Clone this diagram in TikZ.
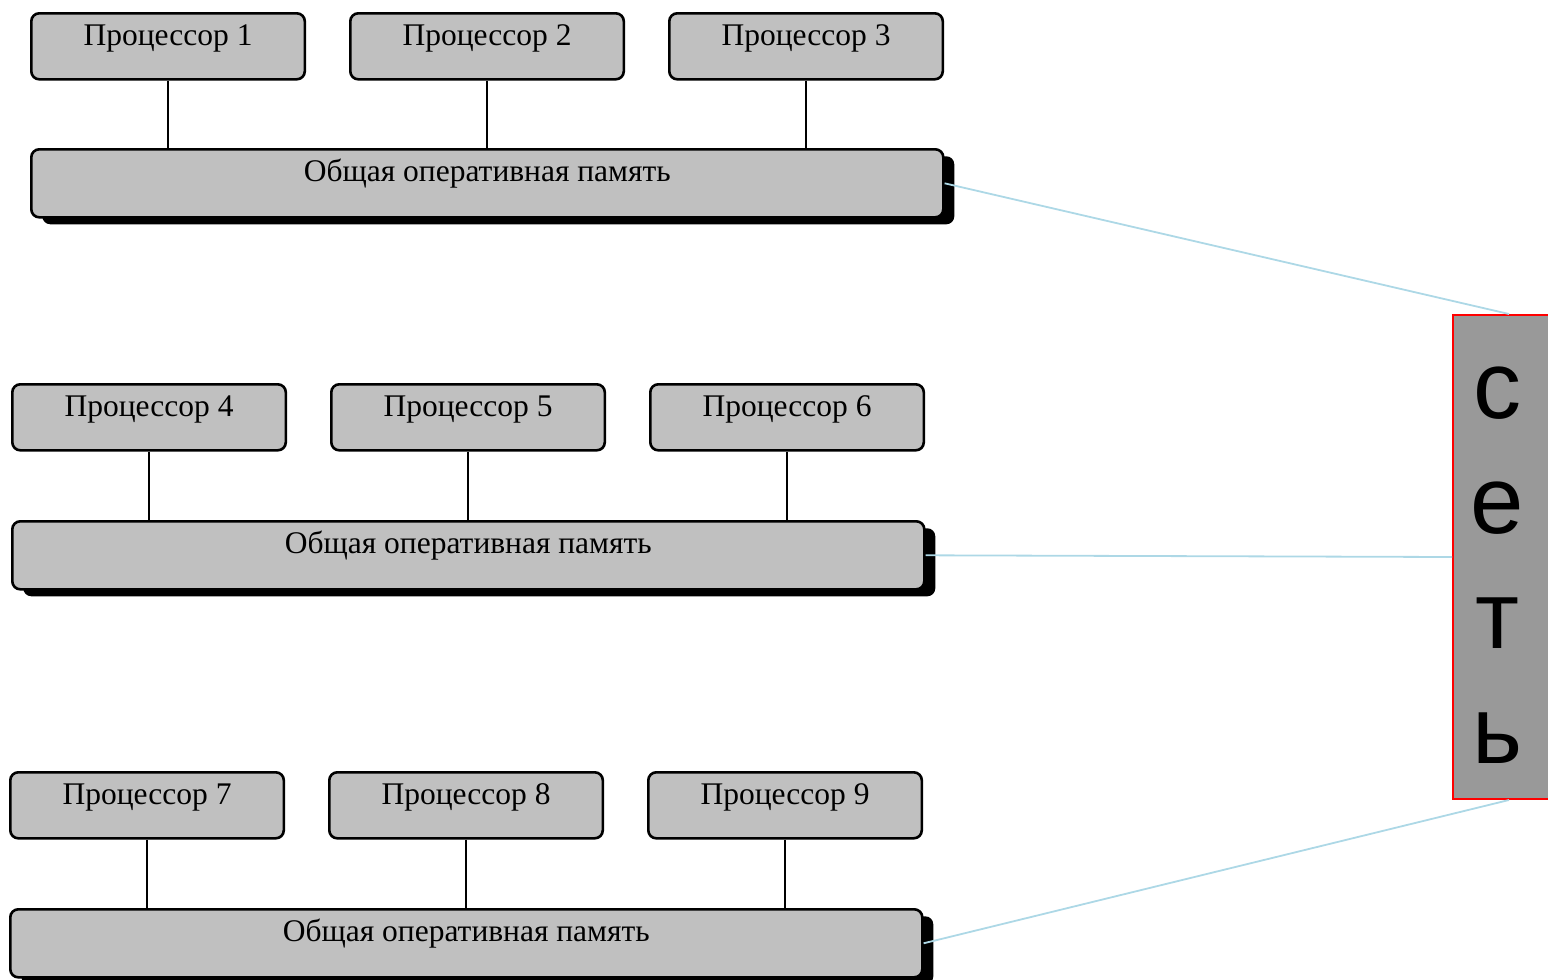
\documentclass[tikz,border=0pt]{standalone}
\usepackage{fontspec}
\setmainfont{Liberation Serif}
\newfontfamily\netfont{Liberation Sans}
\usetikzlibrary{shadows}
\definecolor{boxgray}{HTML}{C0C0C0}
\definecolor{netgray}{HTML}{999999}
\definecolor{linkblue}{HTML}{ADD8E6}
\begin{document}
\begin{tikzpicture}[x=1pt,y=-1pt,
  boxbase/.style={draw=black, line width=2.6pt, rounded corners=8pt, fill=boxgray,
    inner xsep=0pt, inner ysep=0pt, anchor=north west,
    font=\fontsize{31.5}{36}\selectfont},
  cpu/.style={boxbase, minimum width=273.5pt, text height=32pt, text depth=34pt},
  mem/.style={boxbase, minimum width=912pt, text height=32.5pt, text depth=35.5pt,
    drop shadow={shadow xshift=11pt, shadow yshift=-7pt, fill=black, opacity=1}},
  bus/.style={draw=black, line width=2.6pt},
  link/.style={draw=linkblue, line width=1.8pt},
  netbox/.style={draw=red, line width=2pt, fill=netgray, inner sep=0pt,
    minimum width=112pt, minimum height=484pt, anchor=north west},
  netletter/.style={font=\netfont\fontsize{96}{96}\selectfont, anchor=base, inner sep=0pt}
]
\useasboundingbox (0,0) rectangle (1548,980);

% three nodes, each: three processors over a shared memory
\foreach \r/\x/\yp/\ym in {1/30/12/148, 2/11/383/520, 3/9/771/908} {
  \node[mem] (m\r) at (\x,\ym) {Общая оперативная память};
  \foreach \k in {0,1,2} {
    \pgfmathtruncatemacro{\num}{3*(\r-1)+\k+1}
    \node[cpu] (p\num) at ({\x+319*\k},\yp) {Процессор \num};
    \draw[bus] (p\num.south) -- (p\num.south |- m\r.north);
  }
}

% the network
\node[netbox] (net) at (1452,314) {};
\node[netletter] (n1) at (1497,418) {с};
\node[netletter] (n2) at (1497,533) {е};
\node[netletter] (n3) at (1497,648) {т};
\node[netletter] (n4) at (1497,763) {ь};

\draw[link] (m1.east) -- (net.north);
\draw[link] (m2.east) -- (net.west);
\draw[link] (m3.east) -- (net.south);
\end{tikzpicture}
\end{document}
